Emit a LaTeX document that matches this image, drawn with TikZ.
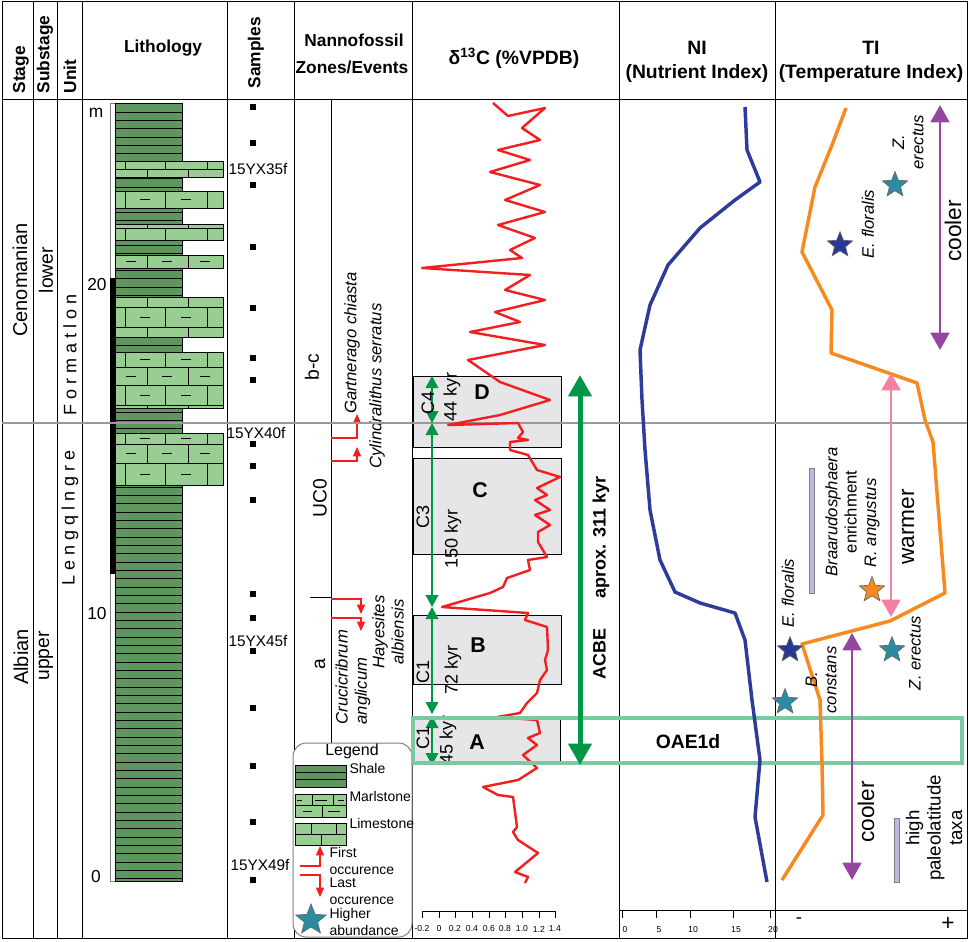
\documentclass[tikz,border=0pt]{standalone}
\usepackage{fontspec}
\setmainfont{Liberation Sans}
\usetikzlibrary{arrows.meta,shapes.geometric}

\definecolor{shalefill}{RGB}{94,150,94}
\definecolor{limefill}{RGB}{152,206,146}
\definecolor{boxgray}{RGB}{230,230,232}
\definecolor{arrowgreen}{RGB}{0,150,72}
\definecolor{oaegreen}{RGB}{122,201,160}
\definecolor{curvered}{RGB}{245,30,30}
\definecolor{niblue}{RGB}{45,60,155}
\definecolor{tiorange}{RGB}{247,137,30}
\definecolor{coolpurple}{RGB}{150,70,160}
\definecolor{warmpink}{RGB}{242,130,160}
\definecolor{starblue}{RGB}{40,55,150}
\definecolor{starteal}{RGB}{42,140,160}
\definecolor{barlav}{RGB}{185,185,225}

% brick rows of the limestone / marlstone beds
\newcommand{\rowA}[2]{\draw[fill=limefill] (115,#1) rectangle (223,#2); \foreach \jx in {125,165,207} \draw (\jx,#1) -- (\jx,#2);}
\newcommand{\rowB}[2]{\draw[fill=limefill] (115,#1) rectangle (223,#2); \foreach \jx in {147,188} \draw (\jx,#1) -- (\jx,#2);}
\newcommand{\marlA}[1]{\foreach \dx in {145,186} \draw (\dx-5,#1) -- (\dx+5,#1);}
\newcommand{\marlB}[1]{\foreach \dx in {131,167,205} \draw (\dx-5,#1) -- (\dx+5,#1);}

\tikzset{every picture/.style={line width=0.75pt}}
\tikzset{
  hdr/.style={font=\bfseries\fontsize{13}{16}\selectfont, inner sep=0.75pt},
  bighdr/.style={font=\bfseries\fontsize{14.5}{18}\selectfont, inner sep=0.75pt, align=center},
  vhdr/.style={hdr, rotate=90, anchor=west},
  stagetxt/.style={font=\fontsize{15}{18}\selectfont, rotate=90, inner sep=0.75pt},
  subtxt/.style={font=\fontsize{14.5}{17}\selectfont, rotate=90, inner sep=0.75pt},
  unittxt/.style={font=\fontsize{13.5}{15}\selectfont, rotate=90, inner sep=0.75pt},
  depth/.style={font=\fontsize{13}{15}\selectfont, inner sep=0.75pt},
  sample/.style={font=\fontsize{11.5}{13}\selectfont, inner sep=0.75pt},
  zone/.style={font=\fontsize{14.5}{16}\selectfont, rotate=90, inner sep=0.75pt},
  taxon/.style={font=\itshape\fontsize{12.5}{14.5}\selectfont, rotate=90, inner sep=0.75pt, align=center},
  legtxt/.style={font=\fontsize{10.5}{12.75}\selectfont, inner sep=0.75pt, align=left},
  evt/.style={draw=curvered, line width=1pt, -{Triangle[length=7pt,width=6pt]}},
  carr/.style={arrowgreen, line width=1.2pt, {Triangle[length=9pt,width=9.5pt]}-{Triangle[length=9pt,width=9.5pt]}},
  bigarr/.style={arrowgreen, line width=3.75pt, {Triangle[length=16pt,width=17pt]}-{Triangle[length=16pt,width=17pt]}},
  clbl/.style={font=\fontsize{13.5}{15}\selectfont, rotate=90, inner sep=0.75pt},
  boxlbl/.style={font=\bfseries\fontsize{16}{18}\selectfont, inner sep=0.75pt},
  tempar/.style={line width=2.2pt, {Triangle[length=13pt,width=14pt]}-{Triangle[length=13pt,width=14pt]}},
  templbl/.style={font=\fontsize{17}{20}\selectfont, rotate=90, inner sep=0.75pt},
  axlbl/.style={font=\fontsize{6.5}{8}\selectfont, inner sep=0.5pt},
  star5/.style={star, star points=5, star point ratio=2.3, minimum size=20pt, inner sep=0pt, draw=black!60, line width=0.5pt},
}

\begin{document}
\begin{tikzpicture}[x=0.75pt,y=0.75pt,yscale=-1,xscale=1]
\useasboundingbox (0,0) rectangle (969,941);

%Frame and column lines
\draw (2,2) rectangle (967,938);
\draw (2,100) -- (967,100);
\foreach \cx in {33,57,82,227,294,412,619,775} \draw (\cx,2) -- (\cx,938);
\draw (331,100) -- (331,743);

% Header text
\node[vhdr] (hstage) at (21,95) {Stage};
\node[vhdr] (hsub) at (45,95) {Substage};
\node[vhdr] (hunit) at (70,95) {Unit};
\node[hdr] (hlith) at (163,48) {Lithology};
\node[vhdr] (hsamp) at (256,90) {Samples};
\node[hdr] (hnan1) at (354,40) {Nannofossil};
\node[hdr] (hnan2) at (352,67) {Zones/Events};
\node[bighdr] (hdelta) at (514,58) {δ\textsuperscript{13}C (\%VPDB)};
\node[bighdr] (hni) at (697,62) {NI\\(Nutrient Index)};
\node[bighdr] (hti) at (871,62) {TI\\(Temperature Index)};

% Stage, substage, unit
\node[stagetxt] (cen) at (20,280) {Cenomanian};
\node[stagetxt] (alb) at (21,657) {Albian};
\node[subtxt] (low) at (46,270) {lower};
\node[subtxt] (upp) at (46,656) {upper};
\node[unittxt] (fm) at (70,355) {F o r m a t l o n};
\node[unittxt] (lq) at (70,518) {L e n g q l n g r e};

% Depth scale
\draw[gray, fill=white] (110,104) rectangle (115,881);
\fill[black] (110,278) rectangle (115,574);
\node[depth] (dm) at (96,113) {m};
\node[depth] (d20) at (97,285) {20};
\node[depth] (d10) at (97,614) {10};
\node[depth] (d0) at (96,877) {0};

% Lithology: shale column
\fill[shalefill] (115,104) rectangle (182,881);
\foreach \i in {1,...,93} \draw (115,{104+\i*8.33}) -- (182,{104+\i*8.33});
\draw (115,104) rectangle (182,881);
% limestone and marlstone beds
\rowA{162}{170} \rowB{170}{178}
\rowA{192}{208} \marlA{200}
\rowB{224}{228} \rowA{228}{240}
\rowB{255}{268} \marlB{261}
\rowB{297}{307} \rowA{307}{327} \marlA{317} \rowB{327}{337}
\rowA{352}{367} \marlA{359} \rowB{367}{385} \marlB{376} \rowA{385}{405} \marlA{395} \rowB{405}{408}
\rowA{433}{444} \marlA{438} \rowB{444}{463} \marlB{453} \rowA{463}{485} \marlA{474}

% Samples
\foreach \sy in {107,143,185,247,308,358,380,444,466,500,594,618,651,708,766,822,880}
  \fill (250,\sy-3) rectangle (256,\sy+3);
\node[sample] (s35) at (258,169) {15YX35f};
\node[sample] (s40) at (256,433) {15YX40f};
\node[sample] (s45) at (258,641) {15YX45f};
\node[sample] (s49) at (260,865) {15YX49f};

% Nannofossil zones
\node[zone] (zbc) at (312,367) {b-c};
\node[zone] (zuc) at (320,498) {UC0};
\node[zone] (za) at (320,664) {a};
\draw (310,597) -- (331,597);

% Nannofossil events
\coordinate (fo1) at (331,438); \coordinate (fo1t) at (357,414);
\coordinate (fo2) at (331,461); \coordinate (fo2t) at (357,447);
\coordinate (lo1) at (331,599); \coordinate (lo1t) at (361,614);
\coordinate (lo2) at (331,618); \coordinate (lo2t) at (361,631);
\draw[evt] (fo1) -| (fo1t);
\draw[evt] (fo2) -| (fo2t);
\draw[evt] (lo1) -| (lo1t);
\draw[evt] (lo2) -| (lo2t);
\node[taxon] (gchi) at (352,343) {Gartnerago chiasta};
\node[taxon] (cser) at (377,386) {Cylindralithus serratus};
\node[taxon, align=left, anchor=west] (cang) at (353,726) {Crucicribrum\\anglicum};
\node[taxon] (halb) at (388,632) {Hayesites\\albiensis};

% Legend
\draw[gray, fill=white, rounded corners=10pt] (293,743) rectangle (412,937);
\node[font=\fontsize{12}{14}\selectfont, inner sep=0.75pt] (legt) at (352,751) {Legend};
\fill[shalefill] (295,765) rectangle (346,787);
\draw (295,772.3) -- (346,772.3) (295,779.6) -- (346,779.6);
\draw (295,765) rectangle (346,787);
\node[legtxt, anchor=west] (lsh) at (348,768) {Shale};
\draw[fill=limefill] (295,794) rectangle (346,817);
\draw (295,805.5) -- (346,805.5) (312,794) -- (312,805.5) (333,794) -- (333,805.5) (322,805.5) -- (322,817);
\draw (297,800) -- (302,800) (315,800) -- (327,800) (338,800) -- (344,800) (303,811) -- (312,811) (328,811) -- (340,811);
\node[legtxt, anchor=west] (lmr) at (348,796) {Marlstone};
\draw[fill=limefill] (295,823) rectangle (346,845);
\draw (295,834) -- (346,834) (311,823) -- (311,834) (336,823) -- (336,834) (321,834) -- (321,845);
\node[legtxt, anchor=west] (lls) at (348,823) {Limestone};
\coordinate (lfo) at (300,866); \coordinate (lfot) at (320,846);
\draw[evt] (lfo) -| (lfot);
\node[legtxt, anchor=west] (lfotxt) at (328,861) {First\\occurence};
\coordinate (llo) at (300,875); \coordinate (llot) at (320,897);
\draw[evt] (llo) -| (llot);
\node[legtxt, anchor=west] (llotxt) at (328,891) {Last\\occurence};
\node[star5, fill=starteal, minimum size=24pt] (lstar) at (311,920) {};
\node[legtxt, anchor=west] (lsttxt) at (328,922) {Higher\\abundance};

% d13C cycles
\draw[fill=boxgray] (413,376) rectangle (561,447);
\draw[fill=boxgray] (413,458) rectangle (561,554);
\draw[fill=boxgray] (413,615) rectangle (561,684);
\draw[fill=boxgray] (413,718) rectangle (560,763);

% Stage boundary
\draw[gray!80, line width=1.5pt] (2,423) -- (967,423);

% d13C curve
\draw[curvered, line width=1.8pt, line join=round] (493,103) -- (508,116) -- (545,108) -- (522,128) -- (540,140) -- (498,150) -- (530,160) -- (490,172) -- (540,185) -- (505,200) -- (545,212) -- (498,225) -- (535,238) -- (510,250) -- (522,258) -- (422,268) -- (530,275) -- (505,290) -- (545,300) -- (495,312) -- (520,322) -- (470,332) -- (545,345) -- (468,360)
 -- (500,382) -- (550,400) -- (500,415) -- (448,425) -- (518,423) -- (523,432) -- (518,438) -- (528,440) -- (510,442) -- (510,450) -- (528,455) -- (537,470) -- (560,477) -- (537,488) -- (547,495) -- (535,500) -- (550,510) -- (535,515) -- (550,525) -- (538,532) -- (538,542) -- (547,557) -- (528,560) -- (530,570) -- (507,578) -- (503,587) -- (490,593) -- (442,607) -- (528,613) -- (525,620) -- (547,627) -- (548,650) -- (545,660) -- (547,670) -- (540,680) -- (537,693) -- (527,703) -- (520,713) -- (497,717) -- (537,720) -- (540,733) -- (528,738) -- (537,745) -- (523,755) -- (537,768) -- (518,780) -- (483,787) -- (498,795) -- (513,797) -- (517,827) -- (513,832) -- (518,840) -- (538,853) -- (515,872) -- (528,877) -- (525,883);

% cycle arrows
\coordinate (c4t) at (432,376); \coordinate (c4b) at (432,423);
\coordinate (c3b) at (432,607); \coordinate (c1b) at (432,714);
\coordinate (c1at) at (432,716); \coordinate (c1ab) at (432,765);
\draw[carr] (c4t) -- (c4b);
\draw[carr] (c4b) -- (c3b);
\draw[carr] (c3b) -- (c1b);
\draw[carr] (c1at) -- (c1ab);
\node[clbl] (lc4) at (428,403) {C4};
\node[clbl] (k44) at (452,397) {44 kyr};
\node[clbl] (lc3) at (423,517) {C3};
\node[clbl] (k150) at (453,539) {150 kyr};
\node[clbl] (lc1b) at (423,672) {C1};
\node[clbl] (k72) at (453,670) {72 kyr};
\node[clbl] (lc1a) at (423,738) {C1};
\node[clbl] (k45) at (448,740) {45 kyr};
\node[boxlbl] (lD) at (482,392) {D};
\node[boxlbl] (lC) at (480,490) {C};
\node[boxlbl] (lB) at (478,645) {B};
\node[boxlbl] (lA) at (477,742) {A};

% OAE1d
\draw[oaegreen, line width=3.5pt] (413,718) rectangle (962,763);
\node[font=\bfseries\fontsize{14.5}{17}\selectfont, inner sep=0.75pt] (oae) at (688,742) {OAE1d};

% ACBE
\coordinate (acT) at (580,375); \coordinate (acB) at (580,765);
\draw[bigarr] (acT) -- (acB);
\node[font=\bfseries\fontsize{13.5}{16}\selectfont, rotate=90, inner sep=0.75pt] (lacbe) at (601,578) {ACBE\hspace{1.7em}aprox. 311 kyr};

% d13C axis
\draw (422,911) -- (555,911);
\foreach \tx/\tl [count=\k] in {422/-0.2,439/0,455/0.2,472/0.4,489/0.6,505/0.8,522/1.0,539/1.2,555/1.4} {
  \draw (\tx,911) -- (\tx,918);
  \node[axlbl] (dax\k) at (\tx,929) {\tl};
}

% NI curve and axis
\draw[niblue, line width=2.6pt, line join=round] (745,107) -- (747,150) -- (760,182) -- (735,200) -- (700,228) -- (668,265) -- (650,305) -- (640,350) -- (642,400) -- (645,450) -- (650,510) -- (660,560) -- (675,592) -- (700,603) -- (735,613) -- (745,640) -- (752,700) -- (760,760) -- (755,817) -- (767,882);
\draw (619,910) -- (967,910);
\foreach \tx/\tl [count=\k] in {622/0,656/5,690/10,733/15,770/20} {
  \draw (\tx,910) -- (\tx,918);
  \node[axlbl] (nax\k) at (\tx+3,930) {\tl};
}

% TI curve
\draw[tiorange, line width=2.6pt, line join=round] (846,108) -- (832,145) -- (815,187) -- (802,252) -- (832,310) -- (831,353) -- (917,383) -- (925,420) -- (933,442) -- (945,593) -- (890,621) -- (802,644) -- (820,700) -- (822,763) -- (823,815) -- (782,880);
\node[font=\fontsize{14}{16}\selectfont, inner sep=0.75pt] (tmin) at (799,921) {-};
\node[font=\fontsize{17}{19}\selectfont, inner sep=0.75pt] (tplus) at (948,924) {+};

% temperature arrows
\coordinate (cu1) at (940,105); \coordinate (cu2) at (940,350);
\coordinate (cl1) at (852,633); \coordinate (cl2) at (852,880);
\coordinate (w1) at (891,373); \coordinate (w2) at (891,617);
\draw[tempar, coolpurple] (cu1) -- (cu2);
\draw[tempar, coolpurple] (cl1) -- (cl2);
\draw[tempar, warmpink] (w1) -- (w2);
\node[templbl] (tcool1) at (953,231) {cooler};
\node[templbl] (tcool2) at (866,812) {cooler};
\node[templbl] (twarm) at (908,527) {warmer};

% bars
\draw[gray, fill=barlav] (809,468) rectangle (814,593);
\draw[gray, fill=barlav] (894,818) rectangle (899,882);

% stars
\node[star5, fill=starblue] (st1) at (840,245) {};
\node[star5, fill=starteal] (st2) at (895,185) {};
\node[star5, fill=starblue] (st3) at (790,650) {};
\node[star5, fill=starteal] (st4) at (785,702) {};
\node[star5, fill=starteal] (st5) at (892,650) {};
\node[star5, fill=tiorange] (st6) at (872,590) {};

% taxa labels
\node[taxon] (tef1) at (868,224) {E. floralis};
\node[taxon] (tze1) at (908,142) {Z.\\erectus};
\node[taxon] (tef2) at (788,593) {E. floralis};
\node[taxon] (tbra) at (841,512) {Braarudosphaera\\\upshape enrichment};
\node[taxon] (tran) at (872,523) {R. angustus};
\node[taxon] (tbco) at (821,680) {B.\\constans};
\node[taxon] (tze2) at (915,653) {Z. erectus};
\node[font=\fontsize{14}{16}\selectfont, rotate=90, inner sep=0.75pt, align=center] (thpt) at (934,828) {high\\paleolatitude\\taxa};

\end{tikzpicture}
\end{document}
